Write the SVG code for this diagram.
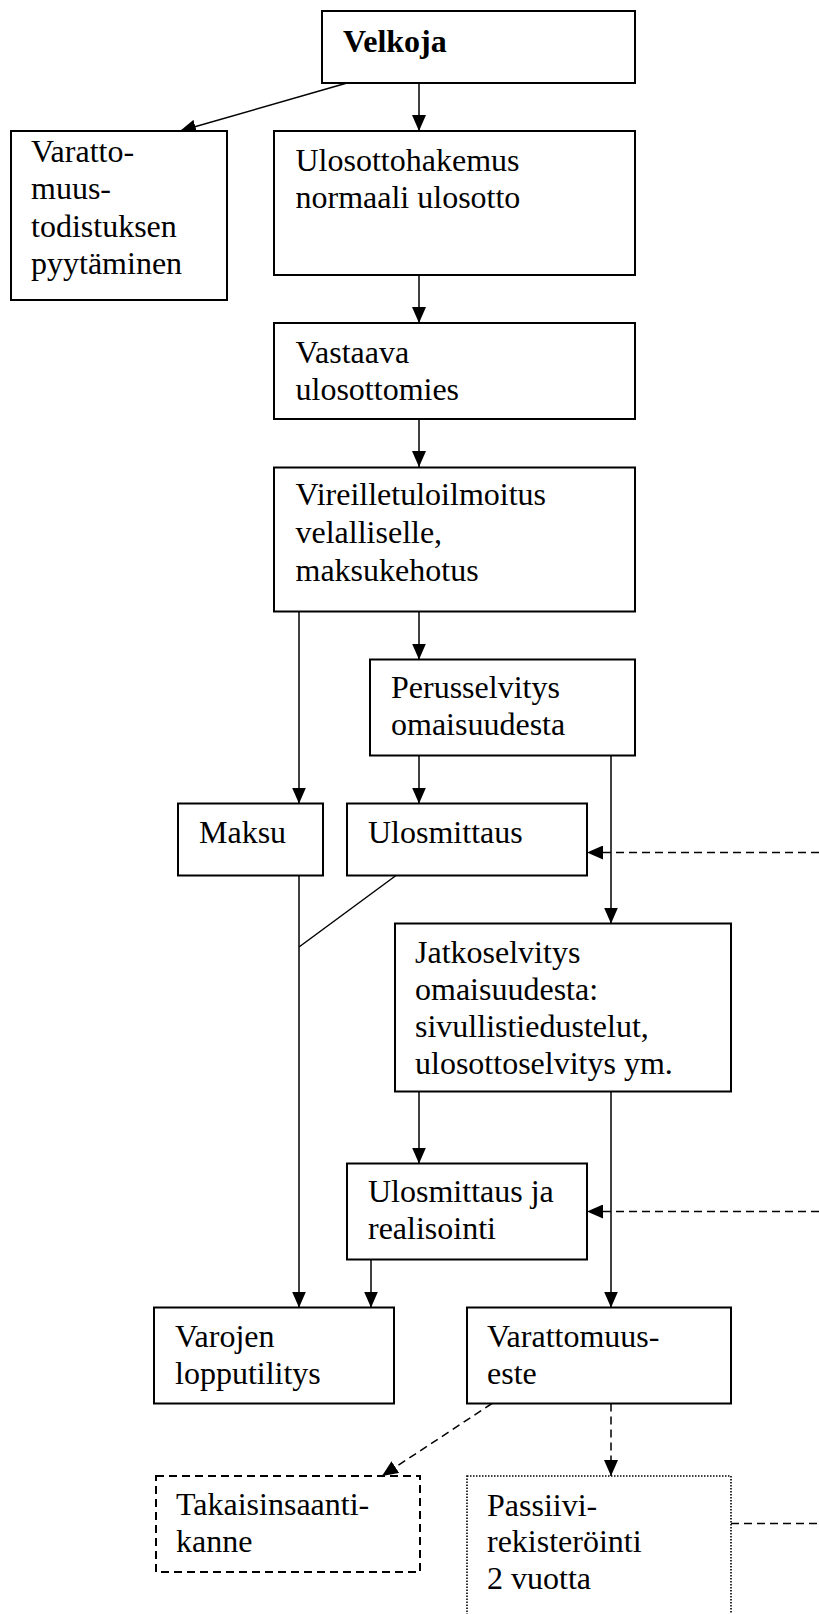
<svg xmlns="http://www.w3.org/2000/svg" width="819" height="1614" viewBox="0 0 819 1614">
<style>
.box{fill:#fff;stroke:#000;stroke-width:2}
.dash{stroke-dasharray:8,5}
.dot{stroke-dasharray:1.5,1.5;stroke-width:1.6}
.t{font-family:"Liberation Serif","Times New Roman",serif;font-size:32px;fill:#000}
.b{font-weight:bold}
.c{fill:none;stroke:#000;stroke-width:1.5}
.cd{fill:none;stroke:#000;stroke-width:1.5;stroke-dasharray:8,5}
</style>
<defs>
<marker id="ah" markerUnits="userSpaceOnUse" markerWidth="16" markerHeight="14" refX="16" refY="7" orient="auto">
<path d="M0,0 L16,7 L0,14 z" fill="#000" stroke="none"/>
</marker>
</defs>
<rect width="819" height="1614" fill="#fff"/>
<g id="connectors">
<line class="c" x1="347" y1="83" x2="180" y2="131" marker-end="url(#ah)"/>
<line class="c" x1="419" y1="83" x2="419" y2="131" marker-end="url(#ah)"/>
<line class="c" x1="419" y1="275" x2="419" y2="323" marker-end="url(#ah)"/>
<line class="c" x1="419" y1="419" x2="419" y2="467" marker-end="url(#ah)"/>
<line class="c" x1="419" y1="612" x2="419" y2="659.5" marker-end="url(#ah)"/>
<line class="c" x1="299" y1="612" x2="299" y2="803.5" marker-end="url(#ah)"/>
<line class="c" x1="419" y1="755.5" x2="419" y2="803.5" marker-end="url(#ah)"/>
<line class="c" x1="611" y1="755.5" x2="611" y2="923.5" marker-end="url(#ah)"/>
<line class="cd" x1="819" y1="852.5" x2="587" y2="852.5" marker-end="url(#ah)"/>
<line class="c" x1="299" y1="875.5" x2="299" y2="1307.5" marker-end="url(#ah)"/>
<line class="c" x1="396" y1="875.5" x2="299" y2="947"/>
<line class="c" x1="419" y1="1092" x2="419" y2="1163.5" marker-end="url(#ah)"/>
<line class="c" x1="611" y1="1092" x2="611" y2="1307.5" marker-end="url(#ah)"/>
<line class="cd" x1="819" y1="1211.5" x2="587" y2="1211.5" marker-end="url(#ah)"/>
<line class="c" x1="371" y1="1259.5" x2="371" y2="1307.5" marker-end="url(#ah)"/>
<line class="cd" x1="492" y1="1403.5" x2="382" y2="1476" marker-end="url(#ah)"/>
<line class="cd" x1="611" y1="1403.5" x2="611" y2="1476" marker-end="url(#ah)"/>
<line class="cd" x1="731" y1="1523.5" x2="819" y2="1523.5"/>
</g>
<g id="velkoja"><rect class="box" x="322" y="11" width="313" height="72"/><text class="t b" x="343" y="52">Velkoja</text></g>
<g id="varattomuustodistus"><rect class="box" x="11" y="131" width="216" height="169"/><text class="t" x="31"><tspan x="31" y="162">Varatto-</tspan><tspan x="31" y="199">muus-</tspan><tspan x="31" y="236.5">todistuksen</tspan><tspan x="31" y="274">pyytäminen</tspan></text></g>
<g id="ulosottohakemus"><rect class="box" x="274" y="131" width="361" height="144"/><text class="t"><tspan x="295.5" y="170.5">Ulosottohakemus</tspan><tspan x="295.5" y="208">normaali ulosotto</tspan></text></g>
<g id="vastaava"><rect class="box" x="274" y="323" width="361" height="96"/><text class="t"><tspan x="295.5" y="362.5">Vastaava</tspan><tspan x="295.5" y="399.5">ulosottomies</tspan></text></g>
<g id="vireilletulo"><rect class="box" x="274" y="467.5" width="361" height="144"/><text class="t"><tspan x="295.5" y="505">Vireilletuloilmoitus</tspan><tspan x="295.5" y="542.5">velalliselle,</tspan><tspan x="295.5" y="580.5">maksukehotus</tspan></text></g>
<g id="perusselvitys"><rect class="box" x="370" y="659.5" width="265" height="96"/><text class="t"><tspan x="391" y="698">Perusselvitys</tspan><tspan x="391" y="735">omaisuudesta</tspan></text></g>
<g id="maksu"><rect class="box" x="178" y="803.5" width="145" height="72"/><text class="t" x="199" y="843">Maksu</text></g>
<g id="ulosmittaus"><rect class="box" x="347" y="803.5" width="240" height="72"/><text class="t" x="368" y="843">Ulosmittaus</text></g>
<g id="jatkoselvitys"><rect class="box" x="395" y="923.5" width="336" height="168"/><text class="t"><tspan x="415" y="962.5">Jatkoselvitys</tspan><tspan x="415" y="1000">omaisuudesta:</tspan><tspan x="415" y="1036.5">sivullistiedustelut,</tspan><tspan x="415" y="1073.5">ulosottoselvitys ym.</tspan></text></g>
<g id="realisointi"><rect class="box" x="347" y="1163.5" width="240" height="96"/><text class="t"><tspan x="368" y="1201.5">Ulosmittaus ja</tspan><tspan x="368" y="1239">realisointi</tspan></text></g>
<g id="lopputilitys"><rect class="box" x="154" y="1307.5" width="240" height="96"/><text class="t"><tspan x="175" y="1346.5">Varojen</tspan><tspan x="175" y="1384">lopputilitys</tspan></text></g>
<g id="varattomuuseste"><rect class="box" x="467" y="1307.5" width="264" height="96"/><text class="t"><tspan x="487" y="1346.5">Varattomuus-</tspan><tspan x="487" y="1384">este</tspan></text></g>
<g id="takaisinsaanti"><rect class="box dash" x="156" y="1476" width="264" height="96"/><text class="t"><tspan x="176" y="1515">Takaisinsaanti-</tspan><tspan x="176" y="1551.5">kanne</tspan></text></g>
<g id="passiivi"><rect class="box dot" x="467" y="1476" width="264" height="170"/><text class="t"><tspan x="487" y="1515.5">Passiivi-</tspan><tspan x="487" y="1551.5">rekisteröinti</tspan><tspan x="487" y="1589">2 vuotta</tspan></text></g>
</svg>
